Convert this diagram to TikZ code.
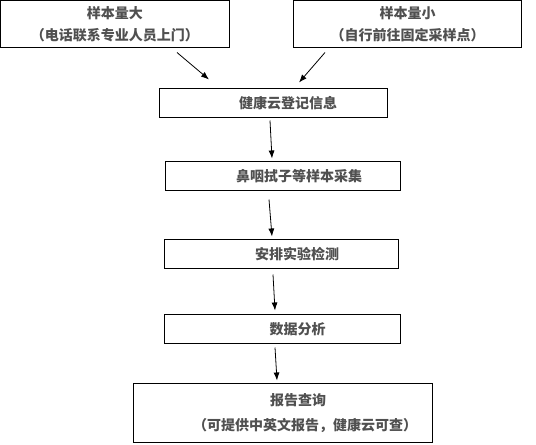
\documentclass[tikz,border=0pt]{standalone}
\usepackage{fontspec}
\usepackage{tikz}
\usetikzlibrary{arrows.meta,calc}
\newfontfamily\cjk{Noto Sans CJK SC}
\definecolor{textgray}{RGB}{80,80,80}

\begin{document}
\begin{tikzpicture}[x=0.75pt,y=-0.75pt,
    box/.style={draw, line width=0.75pt, inner sep=0pt, align=center, text=textgray,
      font=\cjk\bfseries\fontsize{10.5}{16.5}\selectfont},
    arr/.style={-{Latex[length=6pt,width=4.5pt]}, line width=0.6pt}]
    % Fix the canvas
    \useasboundingbox (0,0) rectangle (536,444);
    % Draw the two entry boxes
    \node[box, minimum width=171.75pt, minimum height=35.25pt] (big) at (115,24) {样本量大\\（电话联系专业人员上门）};
    \node[box, minimum width=171pt, minimum height=35.25pt] (small) at (407.5,24) {样本量小\\（自行前往固定采样点）};
    % Draw the steps
    \node[box, minimum width=171pt, minimum height=21.75pt] (reg) at (273.5,103) {\hspace*{21.75pt}健康云登记信息};
    \node[box, minimum width=176.25pt, minimum height=21.75pt] (swab) at (283,176) {\hspace*{24pt}鼻咽拭子等样本采集};
    \node[box, minimum width=175.5pt, minimum height=21.75pt] (lab) at (281.5,254) {\hspace*{23.25pt}安排实验检测};
    \node[box, minimum width=177pt, minimum height=21.75pt] (ana) at (282.5,329) {\hspace*{22.5pt}数据分析};
    \node[box, minimum width=224.25pt, minimum height=44.25pt] (rep) at (283,413) {\hspace*{22.5pt}报告查询\\[2.25pt]\hspace*{33pt}（可提供中英文报告，健康云可查）};
    % Draw the arrows
    \draw[arr] ($(big.south)+(62,4.5)$) -- ($(reg.north)+(-64.5,-8.5)$);
    \draw[arr] ($(small.south)+(-82.5,4.5)$) -- ($(reg.north)+(25.5,-5.5)$);
    \draw[arr] ($(reg.south)+(-3.5,2.5)$) -- ($(swab.north)+(-11,-2.5)$);
    \draw[arr] ($(swab.south)+(-14,8.5)$) -- ($(lab.north)+(-9.5,-2.5)$);
    \draw[arr] ($(lab.south)+(-8.5,5.5)$) -- ($(ana.north)+(-7.5,-3.5)$);
    \draw[arr] ($(ana.south)+(-7.5,3.5)$) -- ($(rep.north)+(-6,-2.5)$);
\end{tikzpicture}
\end{document}
